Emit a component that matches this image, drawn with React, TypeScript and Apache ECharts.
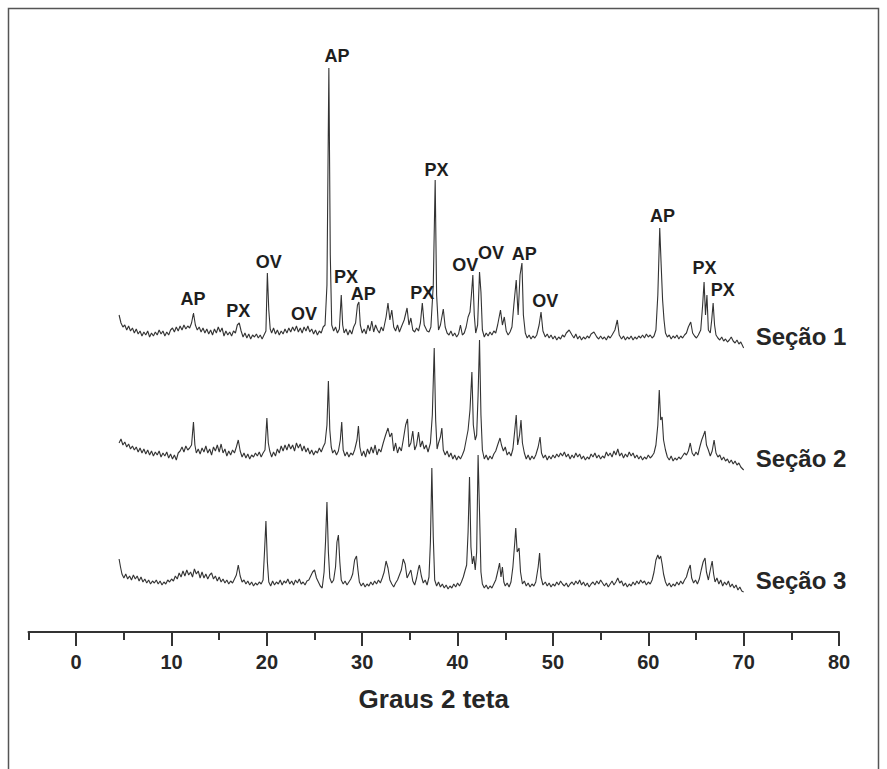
import React, { useEffect, useRef } from "react";
import * as echarts from "echarts";

// Diffraction traces: [2θ (degrees), relative intensity]
const secao1: number[][] = [
  [4.5,30],[4.7,22],[4.9,18],[5.1,20],[5.3,15],[5.5,19],[5.7,14],[5.9,17],[6.1,12],[6.3,16],[6.5,11],[6.7,14],[6.9,9],[7.1,13],[7.3,10],[7.5,14],[7.7,8],[7.9,12],[8.1,9],[8.3,13],[8.5,10],[8.7,15],[8.9,11],[9.1,14],[9.3,9],[9.5,13],[9.7,10],[9.9,15],
  [10.1,17],[10.3,13],[10.5,18],[10.7,14],[10.9,19],[11.1,15],[11.3,20],[11.5,16],[11.7,19],[11.9,17],[12.1,22],[12.3,32],[12.5,20],[12.7,15],[12.9,18],[13.1,13],[13.3,17],[13.5,12],[13.7,16],[13.9,11],[14.1,15],[14.3,10],[14.5,16],[14.7,12],[14.9,18],
  [15.1,13],[15.3,17],[15.5,9],[15.7,14],[15.9,10],[16.1,13],[16.3,9],[16.5,14],[16.7,12],[16.9,20],[17.1,22],[17.3,14],[17.5,8],[17.7,12],[17.9,7],[18.1,11],[18.3,6],[18.5,10],[18.7,8],[18.9,11],[19.1,7],[19.3,10],[19.5,6],[19.7,10],[19.9,14],
  [20.05,72],[20.2,35],[20.35,16],[20.5,12],[20.7,17],[20.9,11],[21.1,15],[21.3,10],[21.5,14],[21.7,11],[21.9,16],[22.1,12],[22.3,17],[22.5,13],[22.7,18],[22.9,14],[23.1,19],[23.3,13],[23.5,17],[23.7,12],[23.9,18],[24.1,14],[24.3,19],[24.5,13],[24.7,16],[24.9,11],
  [25.1,15],[25.3,10],[25.5,14],[25.7,12],[25.9,18],[26.1,20],[26.3,60],[26.5,277],[26.65,90],[26.8,20],[27.0,14],[27.2,18],[27.4,12],[27.6,16],[27.8,50],[27.95,20],[28.1,12],[28.3,16],[28.5,10],[28.7,15],[28.9,11],[29.1,18],[29.3,22],[29.5,40],[29.65,43],[29.8,20],
  [30.0,12],[30.2,16],[30.4,11],[30.6,20],[30.8,14],[31.0,24],[31.2,13],[31.4,20],[31.6,15],[31.8,12],[32.0,18],[32.2,14],[32.5,28],[32.7,42],[32.9,25],[33.1,35],[33.3,18],[33.5,14],[33.7,20],[33.9,13],[34.1,18],[34.4,25],[34.7,37],[34.9,20],
  [35.1,27],[35.3,15],[35.5,13],[35.7,17],[35.9,14],[36.1,22],[36.3,42],[36.5,20],[36.8,14],[37.0,13],[37.2,18],[37.45,60],[37.65,165],[37.8,50],[38.0,15],[38.2,20],[38.5,36],[38.7,18],[38.9,12],[39.1,10],[39.3,14],[39.5,9],[39.7,12],[39.9,8],
  [40.1,11],[40.3,20],[40.5,10],[40.7,12],[40.9,18],[41.1,28],[41.3,33],[41.45,50],[41.6,70],[41.75,30],[41.9,12],[42.1,20],[42.3,73],[42.45,53],[42.6,15],[42.8,8],[43.0,12],[43.2,9],[43.4,13],[43.6,10],[43.8,14],[44.0,12],[44.2,20],[44.5,35],[44.7,20],[44.9,28],
  [45.1,14],[45.3,10],[45.5,13],[45.7,18],[45.9,40],[46.15,65],[46.35,30],[46.55,70],[46.75,82],[46.9,30],[47.1,12],[47.3,7],[47.5,10],[47.7,6],[47.9,9],[48.1,7],[48.3,10],[48.55,20],[48.75,33],[48.95,14],[49.2,8],[49.4,11],[49.6,7],[49.8,10],
  [50.0,6],[50.2,9],[50.4,5],[50.6,8],[50.8,6],[51.0,10],[51.2,8],[51.4,12],[51.7,15],[52.0,10],[52.2,7],[52.4,11],[52.6,6],[52.8,9],[53.0,5],[53.2,8],[53.4,6],[53.6,9],[53.8,7],[54.0,11],[54.3,13],[54.6,8],[54.8,6],
  [55.0,9],[55.2,6],[55.4,8],[55.6,5],[55.8,9],[56.0,7],[56.2,10],[56.5,15],[56.75,25],[56.95,10],[57.2,6],[57.4,9],[57.6,5],[57.8,8],[58.0,6],[58.2,9],[58.4,5],[58.6,8],[58.8,6],[59.0,9],[59.2,7],[59.4,10],[59.6,7],[59.8,11],
  [60.0,8],[60.2,10],[60.4,7],[60.6,9],[60.8,15],[61.0,50],[61.2,117],[61.35,80],[61.5,45],[61.65,25],[61.8,12],[62.0,8],[62.2,10],[62.4,6],[62.6,9],[62.8,7],[63.0,10],[63.2,6],[63.4,9],[63.6,7],[63.8,10],[64.0,12],[64.2,18],[64.45,23],[64.65,12],[64.85,9],
  [65.05,7],[65.25,10],[65.5,15],[65.7,40],[65.85,63],[66.0,30],[66.15,50],[66.3,15],[66.5,12],[66.65,25],[66.8,42],[66.95,20],[67.1,10],[67.3,7],[67.5,5],[67.7,8],[67.9,4],[68.1,6],[68.3,3],[68.5,5],[68.7,8],[68.9,4],[69.1,2],[69.3,5],[69.5,1],[69.7,3],[70.0,-3],
];

const secao2: number[][] = [
  [4.5,22],[4.7,26],[4.9,20],[5.1,23],[5.3,18],[5.5,21],[5.7,16],[5.9,19],[6.1,15],[6.3,18],[6.5,13],[6.7,17],[6.9,12],[7.1,16],[7.3,11],[7.5,15],[7.7,10],[7.9,14],[8.1,9],[8.3,13],[8.5,10],[8.7,14],[8.9,8],[9.1,12],[9.3,9],[9.5,13],[9.7,7],[9.9,11],
  [10.1,6],[10.3,10],[10.5,5],[10.7,12],[10.9,14],[11.1,18],[11.3,13],[11.5,19],[11.7,15],[11.9,17],[12.1,20],[12.3,43],[12.45,20],[12.6,12],[12.8,16],[13.0,11],[13.2,17],[13.4,13],[13.6,19],[13.8,12],[14.0,16],[14.2,10],[14.4,18],[14.6,14],[14.8,20],
  [15.0,13],[15.2,21],[15.4,12],[15.6,16],[15.8,9],[16.0,14],[16.2,10],[16.4,15],[16.6,12],[16.8,18],[17.0,25],[17.2,14],[17.4,8],[17.6,12],[17.8,7],[18.0,11],[18.2,6],[18.4,10],[18.6,8],[18.8,12],[19.0,9],[19.2,13],[19.4,8],[19.6,12],[19.8,15],
  [20.0,47],[20.15,22],[20.3,14],[20.5,8],[20.7,13],[20.9,9],[21.1,16],[21.3,12],[21.5,19],[21.7,14],[21.9,20],[22.1,15],[22.3,21],[22.5,16],[22.7,20],[22.9,14],[23.1,22],[23.3,17],[23.5,21],[23.7,14],[23.9,19],[24.1,13],[24.3,17],[24.5,11],[24.7,15],[24.9,10],
  [25.1,14],[25.3,12],[25.5,17],[25.7,13],[25.9,18],[26.1,22],[26.3,40],[26.45,84],[26.6,35],[26.75,18],[26.9,12],[27.1,15],[27.3,10],[27.5,14],[27.7,25],[27.85,43],[28.0,15],[28.2,9],[28.4,13],[28.6,8],[28.8,12],[29.0,10],[29.2,15],[29.45,25],[29.6,39],[29.75,18],[29.95,9],
  [30.15,14],[30.35,8],[30.55,16],[30.75,11],[30.95,18],[31.15,12],[31.35,20],[31.55,10],[31.75,16],[31.95,13],[32.2,22],[32.45,30],[32.7,37],[32.9,28],[33.1,32],[33.3,14],[33.5,22],[33.7,12],[33.9,18],[34.1,14],[34.3,25],[34.55,40],[34.75,46],[34.9,18],
  [35.1,22],[35.3,34],[35.5,15],[35.7,20],[35.9,33],[36.1,18],[36.3,24],[36.5,16],[36.7,20],[36.9,13],[37.15,22],[37.35,50],[37.55,117],[37.7,45],[37.85,16],[38.0,22],[38.2,28],[38.35,37],[38.5,15],[38.7,10],[38.9,14],[39.1,8],[39.3,12],[39.5,6],[39.7,10],[39.9,5],
  [40.1,9],[40.3,6],[40.5,10],[40.7,15],[40.9,25],[41.1,35],[41.3,55],[41.5,93],[41.65,40],[41.85,25],[42.0,30],[42.15,70],[42.3,125],[42.45,50],[42.6,15],[42.8,6],[43.0,10],[43.2,5],[43.4,9],[43.6,6],[43.8,11],[44.0,14],[44.2,20],[44.45,27],[44.6,20],[44.8,14],
  [45.0,18],[45.2,10],[45.4,13],[45.6,9],[45.8,16],[46.0,35],[46.15,50],[46.3,20],[46.5,30],[46.65,45],[46.8,22],[47.0,12],[47.2,6],[47.4,10],[47.6,5],[47.8,9],[48.0,6],[48.2,10],[48.45,18],[48.65,28],[48.8,12],[49.0,7],[49.2,10],[49.4,5],[49.6,9],[49.8,6],
  [50.0,10],[50.2,7],[50.4,11],[50.6,8],[50.8,12],[51.0,9],[51.2,13],[51.4,8],[51.6,11],[51.8,6],[52.0,10],[52.2,7],[52.4,12],[52.6,8],[52.8,11],[53.0,6],[53.2,9],[53.4,5],[53.6,8],[53.8,6],[54.0,11],[54.2,8],[54.4,12],[54.6,7],[54.8,10],
  [55.0,6],[55.2,9],[55.4,7],[55.6,13],[55.8,9],[56.0,12],[56.2,8],[56.4,14],[56.6,10],[56.8,16],[57.0,9],[57.2,12],[57.4,7],[57.6,11],[57.8,8],[58.0,13],[58.2,9],[58.4,12],[58.6,7],[58.8,10],[59.0,6],[59.2,9],[59.4,5],[59.6,8],[59.8,6],
  [60.0,10],[60.2,7],[60.4,9],[60.6,12],[60.8,20],[61.0,40],[61.15,75],[61.3,45],[61.45,48],[61.6,25],[61.8,15],[62.0,8],[62.2,5],[62.4,9],[62.6,4],[62.8,7],[63.0,5],[63.2,8],[63.4,6],[63.6,9],[63.8,12],[64.0,10],[64.2,14],[64.4,22],[64.6,12],[64.8,9],
  [65.0,13],[65.2,10],[65.4,18],[65.6,25],[65.8,30],[65.95,34],[66.1,20],[66.3,15],[66.5,9],[66.7,14],[66.9,25],[67.1,12],[67.3,8],[67.5,10],[67.7,5],[67.9,8],[68.1,4],[68.3,6],[68.5,2],[68.7,5],[68.9,1],[69.1,4],[69.3,0],[69.5,2],[69.7,-2],[70.0,-5],
];

const secao3: number[][] = [
  [4.5,33],[4.65,25],[4.8,18],[5.0,14],[5.2,18],[5.4,13],[5.6,16],[5.8,12],[6.0,17],[6.2,13],[6.4,16],[6.6,11],[6.8,15],[7.0,10],[7.2,13],[7.4,9],[7.6,12],[7.8,8],[8.0,11],[8.2,9],[8.4,12],[8.6,8],[8.8,11],[9.0,7],[9.2,10],[9.4,8],[9.6,12],[9.8,10],
  [10.0,13],[10.2,11],[10.4,16],[10.6,13],[10.8,19],[11.0,15],[11.2,21],[11.4,16],[11.6,22],[11.8,17],[12.0,20],[12.2,15],[12.4,23],[12.6,18],[12.8,21],[13.0,14],[13.2,20],[13.4,14],[13.6,18],[13.8,13],[14.0,17],[14.2,19],[14.4,13],[14.6,16],[14.8,11],
  [15.0,15],[15.2,10],[15.4,13],[15.6,9],[15.8,12],[16.0,8],[16.2,11],[16.4,9],[16.6,13],[16.8,17],[17.0,27],[17.2,16],[17.4,10],[17.6,12],[17.8,8],[18.0,11],[18.2,7],[18.4,10],[18.6,6],[18.8,9],[19.0,7],[19.2,10],[19.4,8],[19.6,12],[19.75,40],[19.9,71],
  [20.05,30],[20.2,10],[20.4,6],[20.6,11],[20.8,7],[21.0,10],[21.2,8],[21.4,12],[21.6,7],[21.8,11],[22.0,9],[22.2,13],[22.4,8],[22.6,11],[22.8,7],[23.0,12],[23.2,9],[23.4,13],[23.6,8],[23.8,10],[24.0,7],[24.2,11],[24.4,12],[24.6,16],[24.8,20],
  [25.0,22],[25.2,14],[25.4,10],[25.6,6],[25.8,4],[26.0,20],[26.15,50],[26.3,90],[26.45,40],[26.6,14],[26.8,9],[27.0,12],[27.2,25],[27.35,50],[27.5,57],[27.65,30],[27.8,12],[28.0,8],[28.2,11],[28.4,7],[28.6,10],[28.8,13],[29.0,18],[29.2,32],[29.4,36],[29.55,22],[29.7,10],[29.9,6],
  [30.1,9],[30.3,5],[30.5,8],[30.7,6],[30.9,10],[31.1,7],[31.3,11],[31.5,8],[31.7,12],[31.9,9],[32.1,14],[32.3,20],[32.5,31],[32.7,24],[32.9,12],[33.1,8],[33.3,5],[33.5,9],[33.7,12],[33.9,17],[34.1,22],[34.3,33],[34.5,28],[34.7,14],[34.9,18],
  [35.1,22],[35.3,11],[35.5,7],[35.7,14],[35.9,24],[36.0,27],[36.2,16],[36.4,9],[36.6,12],[36.8,7],[37.0,15],[37.15,50],[37.3,124],[37.45,55],[37.6,12],[37.8,6],[38.0,10],[38.2,5],[38.4,8],[38.6,4],[38.8,7],[39.0,3],[39.2,6],[39.4,4],[39.6,8],[39.8,5],
  [40.0,9],[40.2,6],[40.4,10],[40.6,15],[40.8,22],[40.95,27],[41.1,60],[41.25,115],[41.4,45],[41.55,28],[41.7,36],[41.85,22],[42.0,40],[42.15,137],[42.3,80],[42.45,20],[42.6,8],[42.8,4],[43.0,7],[43.2,3],[43.4,6],[43.6,4],[43.8,8],[44.0,12],[44.2,20],[44.4,29],[44.55,15],[44.7,25],[44.85,10],
  [45.0,6],[45.2,9],[45.4,5],[45.6,10],[45.8,25],[46.0,50],[46.1,64],[46.25,40],[46.45,44],[46.6,20],[46.8,8],[47.0,11],[47.2,6],[47.4,9],[47.6,5],[47.8,8],[48.0,6],[48.2,10],[48.45,25],[48.6,39],[48.75,15],[48.95,7],[49.2,10],[49.4,6],[49.6,9],[49.8,5],
  [50.0,8],[50.2,6],[50.4,10],[50.6,7],[50.8,11],[51.0,8],[51.2,6],[51.4,9],[51.6,5],[51.8,8],[52.0,10],[52.2,7],[52.4,11],[52.6,8],[52.8,12],[53.0,7],[53.2,10],[53.4,6],[53.6,9],[53.8,5],[54.0,8],[54.2,10],[54.4,7],[54.6,11],[54.8,8],
  [55.0,12],[55.2,9],[55.4,6],[55.6,9],[55.8,5],[56.0,8],[56.2,11],[56.4,7],[56.6,10],[56.8,14],[57.0,9],[57.2,11],[57.4,6],[57.6,9],[57.8,5],[58.0,8],[58.2,6],[58.4,10],[58.6,7],[58.8,11],[59.0,8],[59.2,12],[59.4,9],[59.6,11],[59.8,7],
  [60.0,10],[60.2,8],[60.4,12],[60.6,20],[60.8,32],[61.0,37],[61.15,33],[61.3,36],[61.45,28],[61.6,18],[61.8,10],[62.0,6],[62.2,9],[62.4,5],[62.6,8],[62.8,6],[63.0,10],[63.2,7],[63.4,11],[63.6,8],[63.8,12],[64.0,15],[64.2,22],[64.4,27],[64.55,14],[64.75,9],[64.95,12],
  [65.15,8],[65.35,13],[65.55,22],[65.75,30],[65.95,34],[66.1,20],[66.3,12],[66.5,22],[66.7,31],[66.85,18],[67.0,10],[67.2,14],[67.4,8],[67.6,12],[67.8,6],[68.0,10],[68.2,7],[68.4,11],[68.6,5],[68.8,8],[69.0,4],[69.2,7],[69.4,2],[69.6,5],[69.8,1],[70.0,0],
];

const seriesNames = ["Seção 1", "Seção 2", "Seção 3"];
const seriesOffsets = [287, 167, 40];

// Phase annotations: [2θ, label height, phase]
const peakLabelX = [12.26, 17.0, 20.2, 23.9, 27.35, 28.3, 30.1, 36.3, 37.8, 40.8, 43.5, 47.0, 49.2, 61.5, 65.9, 67.8];
const peakLabelY = [333, 321, 370, 318, 576, 355, 338, 339, 462, 367, 379, 378, 331, 416, 364, 342];
const peakLabelText = ["AP", "PX", "OV", "OV", "AP", "PX", "AP", "PX", "PX", "OV", "OV", "AP", "OV", "AP", "PX", "PX"];

const majorTicks = [0, 10, 20, 30, 40, 50, 60, 70, 80];
const minorTicks = [-5, 5, 15, 25, 35, 45, 55, 65, 75];
const xMin = -5;
const xMax = 80;
const xTitle = "Graus 2 teta";

const FONT = '"Liberation Sans", Arial, Helvetica, sans-serif';

export default function App() {
  const ref = useRef<HTMLDivElement>(null);

  useEffect(() => {
    if (!ref.current) return;
    const chart = echarts.init(ref.current, undefined, { renderer: "svg" });
    const traces = [secao1, secao2, secao3];

    const lineSeries = traces.map((d, i) => ({
      type: "line",
      name: seriesNames[i],
      data: d.map((p) => [p[0], p[1] + seriesOffsets[i]]),
      showSymbol: false,
      symbol: "none",
      clip: false,
      lineStyle: { color: "#333333", width: 1.1 },
      z: 3 - i,
      endLabel: {
        show: true,
        formatter: "{a}",
        distance: 12,
        offset: [0, -12],
        fontFamily: FONT,
        fontSize: 24,
        fontWeight: "bold",
        color: "#262626",
      },
    }));

    const labelSeries = {
      type: "scatter",
      name: "fases",
      symbolSize: 0,
      silent: true,
      z: 10,
      itemStyle: { color: "#222", opacity: 1 },
      data: peakLabelX.map((x, i) => ({ name: peakLabelText[i], value: [x, peakLabelY[i]] })),
      label: {
        show: true,
        position: "inside",
        formatter: "{b}",
        fontFamily: FONT,
        fontSize: 18,
        fontWeight: "bold",
        color: "#1e1e1e",
        opacity: 1,
        textBorderWidth: 0,
      },
    };

    chart.setOption({
      animation: false,
      backgroundColor: "#ffffff",
      grid: { left: 28.5, right: 48, top: 32, bottom: 137 },
      xAxis: [
        {
          type: "value",
          min: xMin,
          max: xMax,
          position: "bottom",
          name: xTitle,
          nameLocation: "middle",
          nameGap: 54,
          nameTextStyle: { fontFamily: FONT, fontSize: 26, fontWeight: "bold", color: "#262626" },
          axisLine: { show: true, lineStyle: { color: "#333", width: 2 } },
          axisTick: { show: true, customValues: majorTicks, length: 14, inside: false, lineStyle: { color: "#333", width: 2 } },
          axisLabel: {
            show: true,
            customValues: majorTicks,
            margin: 20,
            fontFamily: FONT,
            fontSize: 20,
            fontWeight: "bold",
            color: "#262626",
          },
          splitLine: { show: false },
        },
        {
          type: "value",
          min: xMin,
          max: xMax,
          position: "bottom",
          axisLine: { show: false },
          axisTick: { show: true, customValues: minorTicks, length: 8, inside: false, lineStyle: { color: "#333", width: 2 } },
          axisLabel: { show: false },
          splitLine: { show: false },
        },
      ],
      yAxis: { type: "value", min: 0, max: 600, show: false },
      series: [...lineSeries, labelSeries],
      graphic: [
        {
          type: "rect",
          shape: { x: 8.5, y: 8.5, width: 870, height: 800 },
          style: { fill: "none", stroke: "#555", lineWidth: 1.5 },
          silent: true,
          z: -1,
        },
      ],
    });

    return () => chart.dispose();
  }, []);

  return (
    <div
      ref={ref}
      style={{ position: "fixed", left: 0, top: 0, width: 887, height: 769, background: "#fff" }}
    />
  );
}
